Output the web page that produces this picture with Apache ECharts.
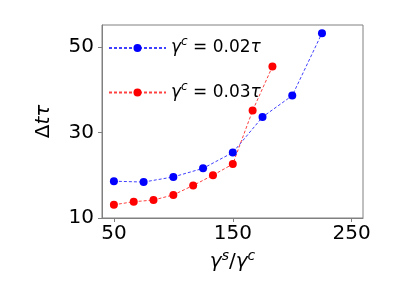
<!DOCTYPE html>
<html>
<head>
<meta charset="utf-8">
<script src="https://cdn.jsdelivr.net/npm/echarts@6/dist/echarts.min.js"></script>
<style>
html,body{margin:0;padding:0;background:#fff;}
#c{width:415px;height:308px;}
</style>
</head>
<body>
<div id="c"></div>
<script>
// Data
var xBlue = [50, 75, 100, 125, 150, 175, 200, 225];
var yBlue = [18.6, 18.4, 19.6, 21.6, 25.3, 33.6, 38.6, 53.2];
var xRed = [50, 66.67, 83.33, 100, 116.67, 133.33, 150, 166.67, 183.33];
var yRed = [13.1, 13.8, 14.2, 15.4, 17.6, 20.0, 22.6, 35.1, 45.4];
var xTicks = [50, 150, 250];
var yTicks = [10, 30, 50];
var seriesNames = ['0.02', '0.03'];

function pairs(xs, ys) { return xs.map(function (x, i) { return [x, ys[i]]; }); }

var FONT = 'DejaVu Sans';
var AXIS_COLOR = '#808080';

var chart = echarts.init(document.getElementById('c'), null, {renderer: 'canvas'});
chart.setOption({
  animation: false,
  backgroundColor: '#ffffff',
  grid: {left: 102, top: 25, right: 52, bottom: 90, show: true, borderColor: AXIS_COLOR, borderWidth: 1, backgroundColor: 'transparent'},
  xAxis: {
    type: 'value', min: 40, max: 259.5,
    axisLine: {show: true, lineStyle: {color: AXIS_COLOR}},
    axisTick: {show: true, length: 4, lineStyle: {color: AXIS_COLOR}, customValues: xTicks},
    axisLabel: {fontFamily: FONT, fontSize: 20, color: '#000', margin: 6, customValues: xTicks},
    splitLine: {show: false},
    name: '{i|γ}{sup|s}{n|/}{i|γ}{sup|c}',
    nameLocation: 'middle', nameGap: 30,
    nameTextStyle: {
      rich: {
        i: {fontFamily: FONT, fontStyle: 'italic', fontSize: 20, color: '#000', lineHeight: 26},
        n: {fontFamily: FONT, fontSize: 20, color: '#000', lineHeight: 26},
        sup: {fontFamily: FONT, fontStyle: 'italic', fontSize: 14, color: '#000', lineHeight: 16, verticalAlign: 'top'}
      }
    }
  },
  yAxis: {
    type: 'value', min: 10, max: 55.1,
    axisLine: {show: true, lineStyle: {color: AXIS_COLOR}},
    axisTick: {show: true, length: 4, lineStyle: {color: AXIS_COLOR}, customValues: yTicks},
    axisLabel: {fontFamily: FONT, fontSize: 20, color: '#000', margin: 8, customValues: yTicks},
    splitLine: {show: false},
    name: '{n|Δ}{i|tτ}',
    nameLocation: 'middle', nameGap: 48, nameRotate: 90,
    nameTextStyle: {
      rich: {
        i: {fontFamily: FONT, fontStyle: 'italic', fontSize: 20, color: '#000'},
        n: {fontFamily: FONT, fontSize: 20, color: '#000'}
      }
    }
  },
  legend: {
    orient: 'vertical', left: 108, top: 36, itemGap: 24, padding: 0,
    itemWidth: 57, itemHeight: 10,
    data: seriesNames,
    formatter: function (name) { return '{i|γ}{sup|c}{n| = ' + name + '}{i|τ}'; },
    textStyle: {
      fontFamily: FONT, fontSize: 17, color: '#000',
      rich: {
        i: {fontFamily: FONT, fontStyle: 'italic', fontSize: 17, color: '#000', lineHeight: 24},
        n: {fontFamily: FONT, fontSize: 17, color: '#000', lineHeight: 24},
        sup: {fontFamily: FONT, fontStyle: 'italic', fontSize: 12, color: '#000', lineHeight: 14, verticalAlign: 'top'}
      }
    }
  },
  series: [
    {
      name: seriesNames[0], type: 'line', data: pairs(xBlue, yBlue),
      symbol: 'circle', symbolSize: 8,
      itemStyle: {color: '#0000ff'},
      lineStyle: {color: '#0000ff', width: 1, type: [3, 2], opacity: 0.75}
    },
    {
      name: seriesNames[1], type: 'line', data: pairs(xRed, yRed),
      symbol: 'circle', symbolSize: 8,
      itemStyle: {color: '#ff0000'},
      lineStyle: {color: '#ff0000', width: 1, type: [3, 2], opacity: 0.75}
    }
  ]
});
</script>
</body>
</html>
